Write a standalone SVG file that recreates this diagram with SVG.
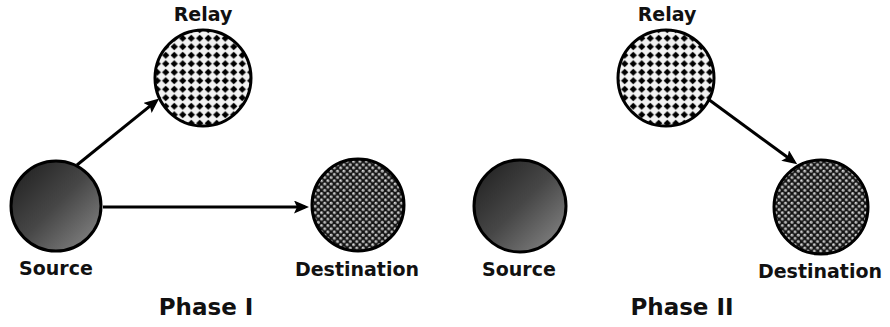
<svg xmlns="http://www.w3.org/2000/svg" width="890" height="327" viewBox="0 0 890 327">
  <style>
    .lbl { font-family: "DejaVu Sans", Verdana, sans-serif; font-weight: bold; font-size: 19px; fill: #111; text-anchor: middle; }
    .phase { font-family: "DejaVu Sans", Verdana, sans-serif; font-weight: bold; font-size: 23px; fill: #111; text-anchor: middle; }
    .node { stroke: #000; stroke-width: 3; }
    .src { fill: url(#srcGrad); }
    .relay { fill: url(#relayPat); }
    .dest { fill: url(#destPat); }
    .edge { stroke: #000; stroke-width: 3; fill: none; marker-end: url(#arrow); }
  </style>
  <defs>
    <linearGradient id="srcGrad" x1="0" y1="0" x2="1" y2="1">
      <stop offset="0" stop-color="#1c1c1c"/>
      <stop offset="0.5" stop-color="#474747"/>
      <stop offset="1" stop-color="#8c8c8c"/>
    </linearGradient>
    <pattern id="relayPat" patternUnits="userSpaceOnUse" width="8.5" height="8.5">
      <rect width="8.5" height="8.5" fill="#f2f2f2"/>
      <polygon points="4.25,0.6 7.9,4.25 4.25,7.9 0.6,4.25" fill="#000"/>
    </pattern>
    <pattern id="destPat" patternUnits="userSpaceOnUse" width="6.4" height="6.4">
      <rect width="6.4" height="6.4" fill="#141414"/>
      <circle cx="1.6" cy="1.6" r="1.6" fill="#a0a0a0"/>
      <circle cx="4.8" cy="4.8" r="1.6" fill="#a0a0a0"/>
      <circle cx="1.2" cy="1.2" r="0.7" fill="#f0f0f0"/>
      <circle cx="4.4" cy="4.4" r="0.7" fill="#f0f0f0"/>
    </pattern>
    <marker id="arrow" markerUnits="userSpaceOnUse" markerWidth="18" markerHeight="14" refX="11" refY="6.5" orient="auto">
      <path d="M0,0 L15,6.5 L0,13 L3,6.5 z" fill="#000"/>
    </marker>
  </defs>

  <g id="connectors">
    <line class="edge" x1="77" y1="165" x2="156.1" y2="101.1"/>
    <line class="edge" x1="103" y1="207" x2="305" y2="207"/>
    <line class="edge" x1="708" y1="99" x2="794" y2="162"/>
  </g>

  <g id="relay1">
    <circle class="node relay" cx="203" cy="78" r="48"/>
    <text class="lbl" x="203" y="21">Relay</text>
  </g>
  <g id="source1">
    <circle class="node src" cx="56" cy="206" r="45"/>
    <text class="lbl" x="56" y="275">Source</text>
  </g>
  <g id="destination1">
    <circle class="node dest" cx="358" cy="205" r="46"/>
    <text class="lbl" x="357" y="276">Destination</text>
  </g>
  <g id="phase1">
    <text class="phase" x="206" y="315">Phase I</text>
  </g>

  <g id="relay2">
    <circle class="node relay" cx="666" cy="78" r="48"/>
    <text class="lbl" x="667" y="21">Relay</text>
  </g>
  <g id="source2">
    <circle class="node src" cx="520" cy="206" r="46"/>
    <text class="lbl" x="519" y="276">Source</text>
  </g>
  <g id="destination2">
    <circle class="node dest" cx="821" cy="207" r="47"/>
    <text class="lbl" x="820" y="278">Destination</text>
  </g>
  <g id="phase2">
    <text class="phase" x="682" y="315">Phase II</text>
  </g>
</svg>
